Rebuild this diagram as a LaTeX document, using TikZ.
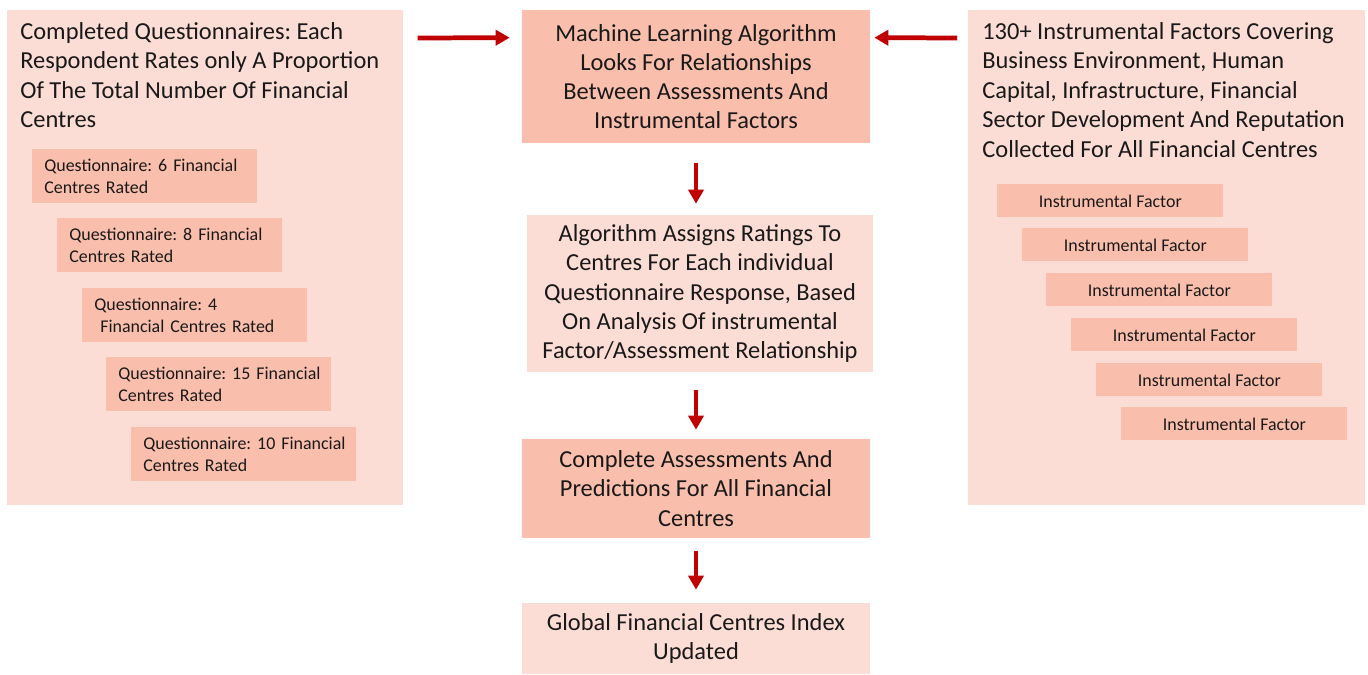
\documentclass[tikz,border=0pt]{standalone}
\usepackage{fontspec}
\setmainfont{Carlito}
\usepackage{tikz}
\usetikzlibrary{arrows.meta, positioning}
\frenchspacing
\hyphenpenalty=10000
\hbadness=10000
\hfuzz=50pt
\definecolor{gfclight}{RGB}{252,221,213}
\definecolor{gfcdark}{RGB}{250,190,172}
\definecolor{gfcred}{RGB}{192,0,0}
\definecolor{gfctext}{RGB}{25,25,25}
\tikzset{
  panel/.style={rectangle, fill=gfclight, anchor=north west, inner sep=0pt,
    minimum height=9.9cm},
  paneltext/.style={anchor=north west, inner sep=0pt, align=left,
    font=\fontsize{13.9}{16.8}\selectfont, text=gfctext},
  darkbox/.style={rectangle, fill=gfcdark, align=center, minimum width=6.96cm,
    font=\fontsize{13.9}{16.6}\selectfont, text=gfctext},
  lightbox/.style={rectangle, fill=gfclight, align=center, minimum width=6.96cm,
    font=\fontsize{13.9}{16.6}\selectfont, text=gfctext},
  qbox/.style={rectangle, fill=gfcdark, anchor=north west, align=left,
    text width=4.02cm, inner xsep=0.24cm, inner ysep=0pt, minimum height=1.08cm,
    font=\fontsize{10.2}{12}\selectfont, text=gfctext},
  fbox/.style={rectangle, fill=gfcdark, anchor=north west, align=center,
    minimum width=4.52cm, minimum height=0.66cm, inner sep=0pt,
    font=\fontsize{10.2}{12}\selectfont, text=gfctext},
  arrow/.style={-{Triangle[length=0.28cm, width=0.3cm]}, line width=2.7pt, color=gfcred}
}
\begin{document}
\begin{tikzpicture}[x=0.02cm, y=-0.02cm]
  \useasboundingbox (0,0) rectangle (1368,674);

  % left column
  \node[panel, minimum width=7.92cm] (leftpanel) at (7,10) {};
  \node[paneltext] (lefttext) at (20,22) {Completed Questionnaires: Each\\
    Respondent Rates only A Proportion\\Of The Total Number Of Financial\\Centres};
  \node[qbox] (q1) at (32,149) {Questionnaire:~6~Financial\\Centres Rated};
  \node[qbox] (q2) at (57,218) {Questionnaire:~8~Financial\\Centres Rated};
  \node[qbox] (q3) at (82,288) {Questionnaire: 4\\\ Financial~Centres~Rated};
  \node[qbox] (q4) at (106,357) {Questionnaire:~15~Financial\\Centres Rated};
  \node[qbox] (q5) at (131,427) {Questionnaire:~10~Financial\\Centres Rated};

  % right column
  \node[panel, minimum width=7.94cm] (rightpanel) at (968,10) {};
  \node[paneltext] (righttext) at (982,22) {130+ Instrumental Factors Covering\\
    Business Environment, Human\\Capital, Infrastructure, Financial\\
    Sector Development And Reputation\\Collected For All Financial Centres};
  \node[fbox] (f1) at (997,184) {Instrumental Factor};
  \node[fbox] (f2) at (1022,228) {Instrumental Factor};
  \node[fbox] (f3) at (1046,273) {Instrumental Factor};
  \node[fbox] (f4) at (1071,318) {Instrumental Factor};
  \node[fbox] (f5) at (1096,363) {Instrumental Factor};
  \node[fbox] (f6) at (1121,407) {Instrumental Factor};

  % centre column
  \node[darkbox, minimum height=2.66cm] (mla) at (696,76.5) {Machine Learning Algorithm\\
    Looks For Relationships\\Between Assessments And\\Instrumental Factors};
  \node[lightbox, minimum width=6.92cm, minimum height=3.14cm] (assign) at (700,293.5)
    {Algorithm Assigns Ratings To\\Centres For Each individual\\
    Questionnaire Response, Based\\On Analysis Of instrumental\\
    Factor/Assessment Relationship};
  \node[darkbox, minimum height=1.98cm] (complete) at (696,488.5) {Complete Assessments And\\
    Predictions For All Financial\\Centres};
  \node[lightbox, minimum height=1.42cm] (gfci) at (696,638.5) {Global Financial Centres Index\\Updated};

  \draw[arrow] ([xshift=0.28cm, yshift=-0.56cm]leftpanel.north east) -- ([xshift=-0.24cm, yshift=-0.56cm]mla.north west);
  \draw[arrow] ([xshift=-0.22cm, yshift=-0.56cm]rightpanel.north west) -- ([xshift=0.08cm, yshift=-0.56cm]mla.north east);
  \draw[arrow, shorten <=0.4cm, shorten >=0.22cm] (mla.south) -- (mla.south |- assign.north);
  \draw[arrow, shorten <=0.36cm, shorten >=0.18cm] (complete.north |- assign.south) -- (complete.north);
  \draw[arrow, shorten <=0.26cm, shorten >=0.26cm] (complete.south) -- (gfci.north);
\end{tikzpicture}
\end{document}
